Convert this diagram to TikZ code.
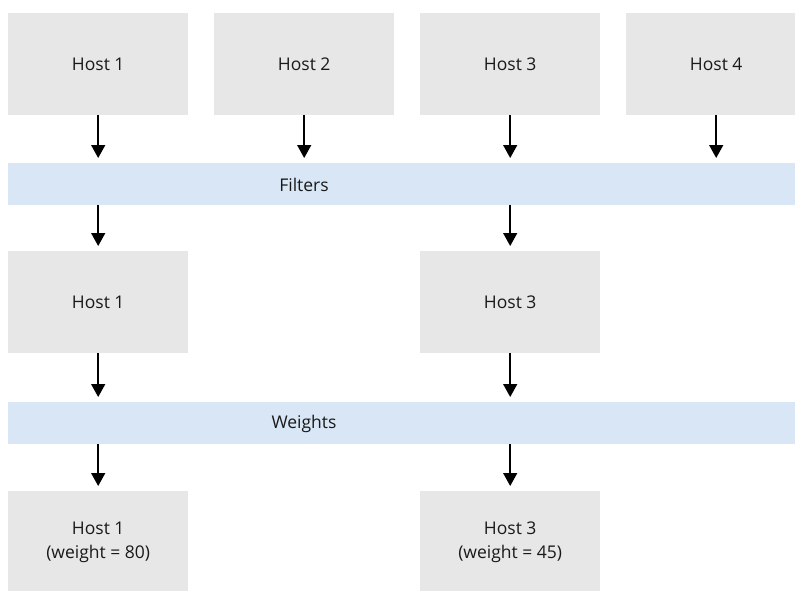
\documentclass[tikz,border=0pt]{standalone}
\usepackage{fontspec}
\setmainfont{Open Sans}
\usetikzlibrary{arrows.meta}
\definecolor{hostgray}{HTML}{E7E7E7}
\definecolor{bandblue}{HTML}{D8E6F5}
\begin{document}
\begin{tikzpicture}[x=1pt,y=-1pt,
  hostbox/.style={fill=hostgray, draw=none, minimum width=180pt, minimum height=102pt, inner sep=0pt, anchor=north west, font=\fontsize{17.5}{24}\selectfont, align=center, text=black!90},
  bandbox/.style={fill=bandblue, draw=none, minimum width=798pt, minimum height=42pt, inner sep=0pt, anchor=north west},
  bandlabel/.style={font=\fontsize{17.5}{24}\selectfont, text=black!90},
  flow/.style={line width=1.5pt, -{Triangle[width=14pt,length=13pt]}, shorten >=5pt}
]
\useasboundingbox (0,0) rectangle (795,590);
\clip (0,0) rectangle (795,590);
% row 1
\node[hostbox] (h1) at (8,13) {Host 1};
\node[hostbox] (h2) at (214,13) {Host 2};
\node[hostbox] (h3) at (420,13) {Host 3};
\node[hostbox] (h4) at (626,13) {Host 4};
% filters band
\node[bandbox] (filt) at (8,163) {};
\node[bandlabel] (filtl) at (304,185) {Filters};
% row 2
\node[hostbox] (f1) at (8,251) {Host 1};
\node[hostbox] (f3) at (420,251) {Host 3};
% weights band
\node[bandbox] (wt) at (8,402) {};
\node[bandlabel] (wtl) at (304,424) {Weights};
% row 3
\node[hostbox] (w1) at (8,491) {Host 1\\(weight = 80)};
\node[hostbox] (w3) at (420,491) {Host 3\\(weight = 45)};
% arrows
\draw[flow] (h1.south) -- (h1.south |- filt.north);
\draw[flow] (h2.south) -- (h2.south |- filt.north);
\draw[flow] (h3.south) -- (h3.south |- filt.north);
\draw[flow] (h4.south) -- (h4.south |- filt.north);
\draw[flow] (f1.north |- filt.south) -- (f1.north);
\draw[flow] (f3.north |- filt.south) -- (f3.north);
\draw[flow] (f1.south) -- (f1.south |- wt.north);
\draw[flow] (f3.south) -- (f3.south |- wt.north);
\draw[flow] (w1.north |- wt.south) -- (w1.north);
\draw[flow] (w3.north |- wt.south) -- (w3.north);
\end{tikzpicture}
\end{document}
